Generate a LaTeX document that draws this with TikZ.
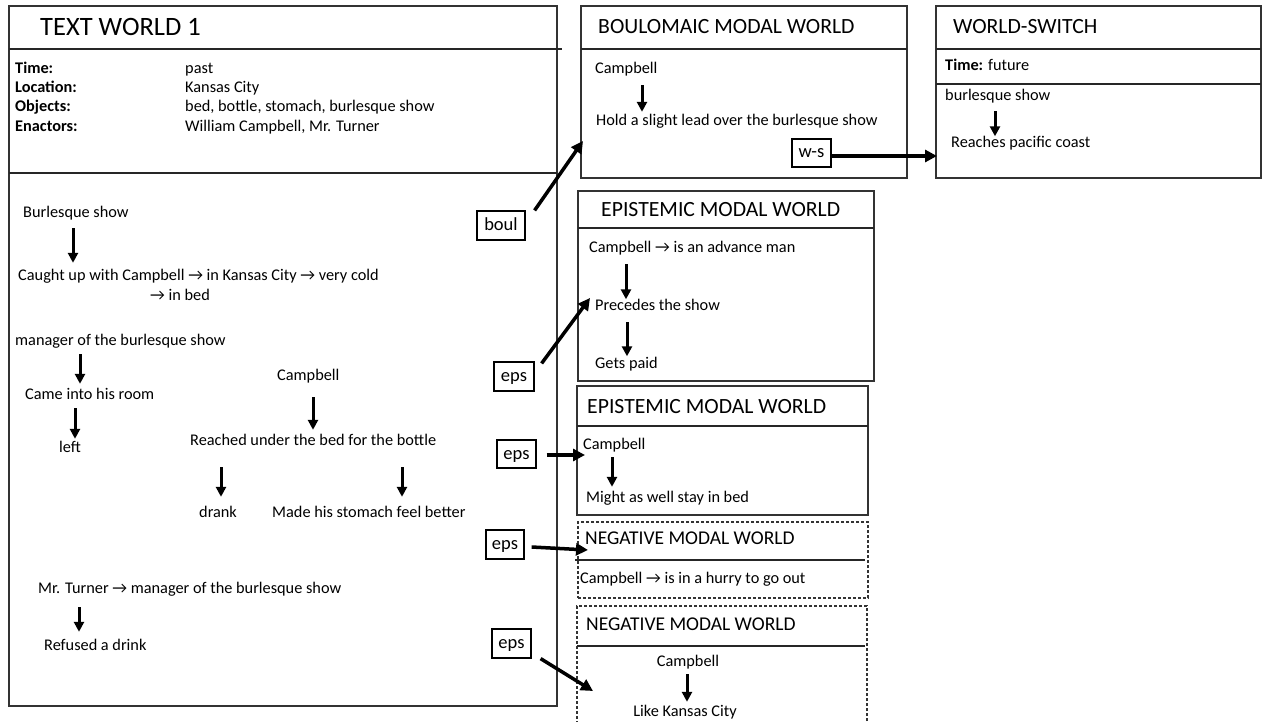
\documentclass[tikz,border=0pt]{standalone}
\usepackage{fontspec}
\setmainfont{Carlito}
\usetikzlibrary{arrows.meta}
% vertical link between two text nodes: node, x offset, node, x offset, gap at start, gap at end
\newcommand{\vlink}[6]{\draw[varr,shorten <=#5pt,shorten >=#6pt] ([xshift=#2pt]#1.south west) -- ([xshift=#4pt]#3.north west);}
\begin{document}
\begin{tikzpicture}[x=1pt,y=-1pt,
  frame/.style={draw=black!80, line width=1.1pt, inner sep=0pt, outer sep=0pt, anchor=north west},
  dframe/.style={frame, dash pattern=on 3pt off 2pt},
  sepline/.style={draw=black!85, line width=1.1pt},
  txt/.style={inner sep=0pt, anchor=west, font=\fontsize{16.3}{19}\selectfont, text height=11.5pt, text depth=3.5pt},
  ctxt/.style={txt, anchor=center},
  lbl/.style={txt, font=\fontsize{16.3}{19}\selectfont\bfseries},
  bigttl/.style={inner sep=0pt, anchor=west, font=\fontsize{26.5}{30}\selectfont},
  ttl/.style={inner sep=0pt, anchor=west, font=\fontsize{21.7}{26}\selectfont},
  nttl/.style={inner sep=0pt, anchor=west, font=\fontsize{19.5}{23}\selectfont},
  tag/.style={draw, line width=1.2pt, inner sep=0pt, font=\fontsize{18.5}{22}\selectfont, text height=14pt, text depth=4pt},
  varr/.style={line width=3pt, -{Triangle[length=10pt,width=10pt]}},
  larr/.style={line width=3.5pt, -{Triangle[length=12pt,width=12pt]}}]
\useasboundingbox (0,0) rectangle (1262,722);
\fill[white] (0,0) rectangle (1262,722);

% ---------- Text World 1 ----------
\node[frame, minimum width=548pt, minimum height=700pt] (tw) at (9,6) {};
\draw[sepline] ([yshift=-43pt]tw.north west) -- ++(553,0);
\draw[sepline] ([yshift=-167pt]tw.north west) -- ([yshift=-167pt]tw.north east);
\node[bigttl] (twt) at (40,27) {TEXT WORLD 1};

\node[lbl] (ltime) at (15,70) {Time:};
\node[lbl] (lloc) at (15,89) {Location:};
\node[lbl] (lobj) at (15,108) {Objects:};
\node[lbl] (lena) at (15,128) {Enactors:};
\node[txt] (vtime) at (185,70) {past};
\node[txt] (vloc) at (185,89) {Kansas City};
\node[txt] (vobj) at (185,108) {bed, bottle, stomach, burlesque show};
\node[txt] (vena) at (185,128) {William Campbell, Mr. Turner};

\node[txt] (bs) at (23,214) {Burlesque show};
\node[txt] (cu) at (18,277) {Caught up with Campbell → in Kansas City → very cold};
\node[txt] (ib) at (150,297) {→ in bed};
\node[txt] (mgr) at (15,341) {manager of the burlesque show};
\node[txt] (came) at (25,395) {Came into his room};
\node[txt] (left) at (59,448) {left};
\node[txt] (camp) at (277,376) {Campbell};
\node[txt] (reach) at (190,441) {Reached under the bed for the bottle};
\node[txt] (drank) at (199,513) {drank};
\node[txt] (made) at (272,513) {Made his stomach feel better};
\node[txt] (turner) at (38,589) {Mr. Turner → manager of the burlesque show};
\node[txt] (refused) at (44,646) {Refused a drink};

\vlink{bs}{50}{cu}{55}{6.5}{6.5}
\vlink{mgr}{65}{came}{55}{5.5}{3.5}
\vlink{came}{50}{left}{16}{5.5}{1.5}
\vlink{camp}{36}{reach}{123}{13.5}{3.5}
\vlink{reach}{31}{drank}{22}{18.5}{8.5}
\vlink{reach}{212}{made}{130}{18.5}{8.5}
\vlink{turner}{41}{refused}{35}{10.5}{6.5}

% ---------- Boulomaic modal world ----------
\node[frame, minimum width=326pt, minimum height=172pt] (bw) at (581,6) {};
\draw[sepline] ([yshift=-43pt]bw.north west) -- ([yshift=-43pt]bw.north east);
\node[ttl] (bwt) at (598,26.3) {BOULOMAIC MODAL WORLD};
\node[txt] (bcamp) at (595,70) {Campbell};
\node[txt] (bhold) at (596,122) {Hold a slight lead over the burlesque show};
\vlink{bcamp}{47}{bhold}{46}{7.5}{2.5}

% ---------- World-switch ----------
\node[frame, minimum width=325pt, minimum height=172pt] (wsw) at (936,6) {};
\draw[sepline] ([yshift=-43pt]wsw.north west) -- ([yshift=-43pt]wsw.north east);
\draw[sepline] ([yshift=-78pt]wsw.north west) -- ([yshift=-78pt]wsw.north east);
\node[ttl] (wst) at (953,26.3) {WORLD-SWITCH};
\node[txt] (wtime) at (945,67) {\textbf{Time:} future};
\node[txt] (wbs) at (945,97) {burlesque show};
\node[txt] (wreach) at (951,144) {Reaches pacific coast};
\vlink{wbs}{50}{wreach}{44}{6.5}{0}

% ---------- Epistemic modal world (1) ----------
\node[frame, minimum width=296pt, minimum height=190pt] (ew1) at (578,191) {};
\draw[sepline] ([yshift=-37pt]ew1.north west) -- ([yshift=-37pt]ew1.north east);
\node[ttl] (ew1t) at (601,209.3) {EPISTEMIC MODAL WORLD};
\node[txt] (ecamp) at (589,249) {Campbell → is an advance man};
\node[txt] (eprec) at (595,307) {Precedes the show};
\node[txt] (egets) at (595,364) {Gets paid};
\vlink{ecamp}{37}{eprec}{31}{7.5}{0}
\vlink{eprec}{32}{egets}{32}{7.5}{0}

% ---------- Epistemic modal world (2) ----------
\node[frame, minimum width=291pt, minimum height=129pt] (ew2) at (577,386) {};
\draw[sepline] ([yshift=-40pt]ew2.north west) -- ([yshift=-40pt]ew2.north east);
\node[ttl] (ew2t) at (587,406.3) {EPISTEMIC MODAL WORLD};
\node[txt] (fcamp) at (583,445) {Campbell};
\node[txt] (fmight) at (586,498) {Might as well stay in bed};
\vlink{fcamp}{29}{fmight}{26}{4.5}{3.5}

% ---------- Negative modal world (1) ----------
\node[dframe, minimum width=290pt, minimum height=76pt] (nw1) at (578,522) {};
\draw[sepline] ([xshift=-3pt,yshift=-38pt]nw1.north west) -- ([xshift=-3pt,yshift=-38pt]nw1.north east);
\node[nttl] (nw1t) at (585,538.3) {NEGATIVE MODAL WORLD};
\node[txt] (ncamp) at (580,579) {Campbell → is in a hurry to go out};

% ---------- Negative modal world (2) ----------
\node[dframe, minimum width=290pt, minimum height=130pt] (nw2) at (577,606) {};
\draw[sepline] ([yshift=-40pt]nw2.north west) -- ([xshift=-2pt,yshift=-40pt]nw2.north east);
\node[nttl] (nw2t) at (586,624.3) {NEGATIVE MODAL WORLD};
\node[ctxt] (mcamp) at (688,662) {Campbell};
\node[ctxt] (mlike) at (685,712) {Like Kansas City};
\draw[varr,shorten <=4.5pt,shorten >=2.5pt] ([xshift=-1pt]mcamp.south) -- ([xshift=2pt]mlike.north);

% ---------- Accessibility tags and their links ----------
\node[tag, minimum width=48pt, minimum height=29pt] (boul) at (501,225.5) {boul};
\node[tag, minimum width=40pt, minimum height=29pt] (eps1) at (514,376.5) {eps};
\node[tag, minimum width=39pt, minimum height=28pt] (eps2) at (516.5,454) {eps};
\node[tag, minimum width=38pt, minimum height=29pt] (eps3) at (505,544.5) {eps};
\node[tag, minimum width=39pt, minimum height=29pt] (eps4) at (511.5,643.5) {eps};
\node[tag, minimum width=39pt, minimum height=28pt] (ws) at (811.5,153) {w-s};

\draw[larr] ([xshift=9pt]boul.north east) -- ([xshift=2pt,yshift=37pt]bw.south west);
\draw[larr] ([xshift=7pt,yshift=-2pt]eps1.north east) -- ([xshift=12pt,yshift=-107pt]ew1.north west);
\draw[larr] ([xshift=10pt,yshift=-1pt]eps2.east) -- ([xshift=8pt,yshift=-69pt]ew2.north west);
\draw[larr] ([xshift=7pt,yshift=-2.5pt]eps3.east) -- ([xshift=10pt,yshift=-28pt]nw1.north west);
\draw[larr] ([xshift=9pt]eps4.south east) -- ([xshift=16pt,yshift=-85pt]nw2.north west);
\draw[larr] ([yshift=-3pt]ws.east) -- ([xshift=1pt,yshift=-150pt]wsw.north west);
\end{tikzpicture}
\end{document}
